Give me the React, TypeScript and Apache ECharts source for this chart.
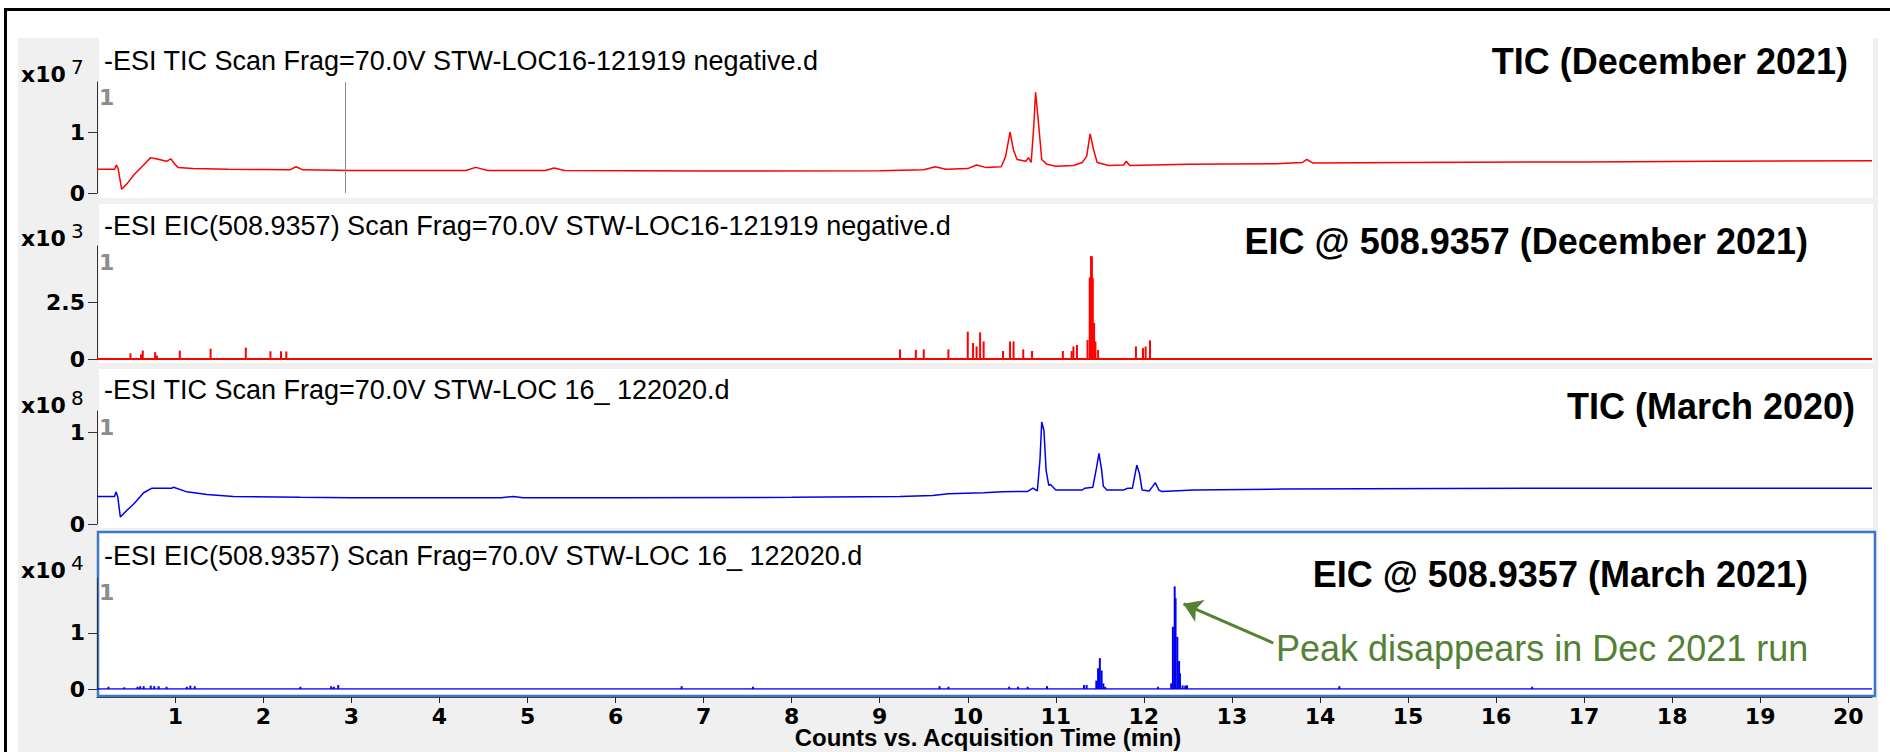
import React, { useEffect, useRef } from "react";
import * as echarts from "echarts";

// ---------- data ----------
const X_MIN = 0.11;
const X_MAX = 20.27;
const xTickValues = [1, 2, 3, 4, 5, 6, 7, 8, 9, 10, 11, 12, 13, 14, 15, 16, 17, 18, 19, 20];

// TIC December 2021 (x10^7 counts)
const ticDec2021: [number, number][] = [
  [0.11, 0.39], [0.31, 0.39], [0.33, 0.46], [0.35, 0.4], [0.39, 0.06], [0.45, 0.15], [0.53, 0.3],
  [0.64, 0.46], [0.72, 0.58], [0.78, 0.56], [0.9, 0.52], [0.95, 0.56], [0.99, 0.48], [1.03, 0.42],
  [1.2, 0.4], [1.6, 0.39], [2.0, 0.385], [2.3, 0.38], [2.37, 0.43], [2.45, 0.38], [3.0, 0.37],
  [4.3, 0.37], [4.41, 0.42], [4.55, 0.37], [5.2, 0.37], [5.3, 0.41], [5.42, 0.37], [7.0, 0.36],
  [9.0, 0.365], [9.5, 0.38], [9.63, 0.43], [9.75, 0.39], [10.0, 0.4], [10.1, 0.46], [10.2, 0.42],
  [10.38, 0.43], [10.43, 0.6], [10.48, 1.0], [10.52, 0.7], [10.56, 0.55], [10.66, 0.52], [10.69, 0.58],
  [10.72, 0.5], [10.75, 1.1], [10.77, 1.65], [10.8, 1.2], [10.84, 0.55], [10.9, 0.47], [11.0, 0.44],
  [11.2, 0.45], [11.3, 0.5], [11.35, 0.6], [11.39, 0.97], [11.43, 0.7], [11.47, 0.5], [11.6, 0.45],
  [11.77, 0.46], [11.8, 0.52], [11.84, 0.45], [12.5, 0.47], [13.5, 0.48], [13.8, 0.5], [13.85, 0.55],
  [13.92, 0.49], [15.0, 0.5], [17.0, 0.51], [18.5, 0.52], [20.27, 0.53],
];

// EIC 508.9357 December 2021 (x10^3 counts), sticks
const eicDec2021: [number, number][] = [
  [0.49, 0.25], [0.61, 0.2], [0.63, 0.37], [0.77, 0.3], [0.79, 0.15], [1.05, 0.37], [1.4, 0.45],
  [1.8, 0.5], [2.08, 0.34], [2.2, 0.34], [2.26, 0.33], [9.23, 0.42], [9.41, 0.4], [9.5, 0.42],
  [9.78, 0.42], [10.0, 1.2], [10.06, 0.7], [10.1, 0.55], [10.14, 1.17], [10.18, 0.77], [10.4, 0.35],
  [10.48, 0.77], [10.52, 0.77], [10.63, 0.42], [10.73, 0.35], [11.08, 0.35], [11.18, 0.35], [11.2, 0.55],
  [11.24, 0.62], [11.36, 0.83], [11.385, 3.58], [11.4, 4.52], [11.41, 4.5], [11.42, 3.55], [11.435, 1.58],
  [11.45, 0.77], [11.48, 0.4], [11.91, 0.55], [11.99, 0.48], [12.02, 0.55], [12.07, 0.82],
];

// TIC March 2020 (x10^8 counts)
const ticMar2020: [number, number][] = [
  [0.11, 0.3], [0.31, 0.3], [0.325, 0.35], [0.345, 0.3], [0.375, 0.076], [0.45, 0.15], [0.53, 0.22],
  [0.64, 0.34], [0.735, 0.39], [0.96, 0.39], [0.98, 0.4], [1.13, 0.35], [1.36, 0.32], [1.66, 0.3],
  [2.42, 0.29], [3.0, 0.285], [4.7, 0.285], [4.84, 0.3], [4.95, 0.285], [6.0, 0.285], [8.0, 0.29],
  [9.23, 0.3], [9.6, 0.31], [9.78, 0.33], [10.18, 0.34], [10.39, 0.35], [10.68, 0.355], [10.74, 0.39],
  [10.79, 0.36], [10.82, 0.7], [10.84, 1.11], [10.865, 1.02], [10.89, 0.58], [10.92, 0.42], [10.94, 0.43],
  [11.0, 0.37], [11.3, 0.37], [11.33, 0.39], [11.42, 0.4], [11.46, 0.6], [11.49, 0.77], [11.52, 0.59],
  [11.54, 0.41], [11.58, 0.37], [11.77, 0.37], [11.82, 0.39], [11.87, 0.39], [11.92, 0.64], [11.95, 0.55],
  [11.98, 0.37], [12.06, 0.36], [12.1, 0.41], [12.13, 0.45], [12.17, 0.37], [12.2, 0.355], [12.57, 0.37],
  [13.58, 0.38], [16.48, 0.39], [20.27, 0.39],
];

// EIC 508.9357 March 2021 (x10^4 counts), sticks
const eicMar2021: [number, number][] = [
  [0.24, 0.04], [0.42, 0.03], [0.57, 0.04], [0.6, 0.05], [0.64, 0.05], [0.72, 0.06], [0.76, 0.05],
  [0.81, 0.05], [0.9, 0.04], [1.13, 0.04], [1.17, 0.06], [1.22, 0.05], [2.42, 0.04], [2.77, 0.05],
  [2.8, 0.04], [2.85, 0.07], [6.75, 0.05], [7.56, 0.04], [9.68, 0.05], [9.78, 0.04], [10.47, 0.04],
  [10.57, 0.04], [10.68, 0.04], [10.9, 0.05], [11.32, 0.07], [11.35, 0.07], [11.46, 0.15], [11.48, 0.37],
  [11.5, 0.55], [11.52, 0.33], [11.54, 0.1], [11.56, 0.04], [12.16, 0.04], [12.31, 0.1], [12.33, 1.11],
  [12.35, 1.83], [12.36, 1.62], [12.38, 0.93], [12.4, 0.5], [12.41, 0.28], [12.44, 0.065], [12.47, 0.06],
  [12.49, 0.065], [14.22, 0.05], [16.41, 0.04],
];

const zeroBaseline: [number, number][] = [[X_MIN, 0], [X_MAX, 0]];

const panelTitles = [
  "-ESI TIC Scan Frag=70.0V STW-LOC16-121919 negative.d",
  "-ESI EIC(508.9357) Scan Frag=70.0V STW-LOC16-121919 negative.d",
  "-ESI TIC Scan Frag=70.0V STW-LOC 16_ 122020.d",
  "-ESI EIC(508.9357) Scan Frag=70.0V STW-LOC 16_ 122020.d",
];
const panelLabels = [
  "TIC (December 2021)",
  "EIC @ 508.9357 (December 2021)",
  "TIC (March 2020)",
  "EIC @ 508.9357 (March 2021)",
];
const exponents = ["7", "3", "8", "4"];
const yTickValues = [[0, 1], [0, 2.5], [0, 1], [0, 1]];
const yMaxValues = [1.82, 4.96, 1.23, 1.98];
const cursorTime = 2.93;
const annotationText = "Peak disappears in Dec 2021 run";
const xAxisTitle = "Counts vs. Acquisition Time (min)";

// ---------- layout ----------
const PLOT_LEFT = 97;
const PLOT_WIDTH = 1775;
const grids = [
  { top: 82, height: 111 },
  { top: 246, height: 113 },
  { top: 411, height: 113 },
  { top: 578, height: 111 },
];
const panelRects = [
  { y: 38, h: 160 },
  { y: 204, h: 159 },
  { y: 369, h: 159 },
  { y: 532, h: 163 },
];
const titleY = [61, 226, 390, 556];
const expY = [74, 238, 405, 570];
const grayOneY = [97, 262, 427, 592];
const labelPos = [
  { x: 1848, y: 61 },
  { x: 1808, y: 241 },
  { x: 1855, y: 406 },
  { x: 1808, y: 574 },
];

const SANS = "'Liberation Sans', Arial, sans-serif";
const DEJAVU = "'DejaVu Sans', sans-serif";
const RED = "#ff0000";
const BLUE = "#0000f0";
const GREEN = "#548235";

export default function App() {
  const ref = useRef<HTMLDivElement>(null);

  useEffect(() => {
    if (!ref.current) return;
    const chart = echarts.init(ref.current, undefined, { renderer: "svg" });

    const graphics: any[] = [];
    graphics.push({
      type: "rect", z: -30, silent: true,
      shape: { x: 18, y: 38, width: 1860, height: 714 },
      style: { fill: "#f0f0f0" },
    });
    graphics.push({
      type: "rect", z: -29, silent: true,
      shape: { x: 5.5, y: 9.5, width: 1900, height: 800 },
      style: { fill: "none", stroke: "#000", lineWidth: 3 },
    });
    panelRects.forEach((p) => {
      graphics.push({
        type: "rect", z: -25, silent: true,
        shape: { x: 99, y: p.y, width: 1774, height: p.h },
        style: { fill: "#ffffff" },
      });
    });
    graphics.push({
      type: "rect", z: -24, silent: true,
      shape: { x: 98, y: 532, width: 1777, height: 164 },
      style: { fill: "none", stroke: "#3c78c8", lineWidth: 2.5 },
    });
    for (let i = 0; i < 4; i++) {
      graphics.push({
        type: "text", z: 20, silent: true,
        style: {
          text: panelTitles[i], x: 104, y: titleY[i], align: "left", verticalAlign: "middle",
          fontFamily: SANS, fontSize: 27, fill: "#000",
        },
      });
      graphics.push({
        type: "text", z: 20, silent: true,
        style: {
          text: "x10", x: 21, y: expY[i], align: "left", verticalAlign: "middle",
          fontFamily: DEJAVU, fontWeight: "bold", fontSize: 22, fill: "#000",
        },
      });
      graphics.push({
        type: "text", z: 20, silent: true,
        style: {
          text: exponents[i], x: 71, y: expY[i] - 7, align: "left", verticalAlign: "middle",
          fontFamily: DEJAVU, fontSize: 20, fill: "#000",
        },
      });
      graphics.push({
        type: "text", z: 20, silent: true,
        style: {
          text: "1", x: 99, y: grayOneY[i], align: "left", verticalAlign: "middle",
          fontFamily: DEJAVU, fontWeight: "bold", fontSize: 22, fill: "#8c8c8c",
        },
      });
      graphics.push({
        type: "text", z: 20, silent: true,
        style: {
          text: panelLabels[i], x: labelPos[i].x, y: labelPos[i].y, align: "right", verticalAlign: "middle",
          fontFamily: SANS, fontWeight: "bold", fontSize: 36, fill: "#000",
        },
      });
    }
    graphics.push({
      type: "text", z: 20, silent: true,
      style: {
        text: annotationText, x: 1276, y: 648, align: "left", verticalAlign: "middle",
        fontFamily: SANS, fontSize: 36, fill: GREEN,
      },
    });
    graphics.push({
      type: "text", z: 20, silent: true,
      style: {
        text: xAxisTitle, x: 988, y: 737, align: "center", verticalAlign: "middle",
        fontFamily: SANS, fontWeight: "bold", fontSize: 24, fill: "#000",
      },
    });

    const xAxes = grids.map((_, i) => ({
      type: "value",
      gridIndex: i,
      min: X_MIN,
      max: X_MAX,
      show: i === 3,
      offset: 8,
      axisLine: { show: true, onZero: false, lineStyle: { color: "#444", width: 1 } },
      axisTick: { show: true, customValues: xTickValues, length: 6, lineStyle: { color: "#222", width: 1 } },
      axisLabel: {
        show: true, customValues: xTickValues, margin: 8,
        fontFamily: DEJAVU, fontWeight: "bold", fontSize: 22, color: "#000",
      },
      splitLine: { show: false },
    }));

    const yAxes = grids.map((_, i) => ({
      type: "value",
      gridIndex: i,
      min: 0,
      max: yMaxValues[i],
      axisLine: { show: true, lineStyle: { color: "#333", width: 1 } },
      axisTick: { show: true, customValues: yTickValues[i], length: 9, lineStyle: { color: "#333" } },
      axisLabel: {
        show: true, customValues: yTickValues[i], margin: 12,
        fontFamily: DEJAVU, fontWeight: "bold", fontSize: 22, color: "#000",
        formatter: (v: number) => String(v),
      },
      splitLine: { show: false },
    }));

    const option: any = {
      animation: false,
      backgroundColor: "#ffffff",
      grid: grids.map((g) => ({ left: PLOT_LEFT, width: PLOT_WIDTH, top: g.top, height: g.height })),
      xAxis: xAxes,
      yAxis: yAxes,
      graphic: { elements: graphics },
      series: [
        {
          type: "line", xAxisIndex: 0, yAxisIndex: 0, data: ticDec2021, symbol: "none",
          lineStyle: { color: RED, width: 1.5 }, itemStyle: { color: RED }, z: 3,
          markLine: {
            silent: true, symbol: "none", label: { show: false },
            lineStyle: { color: "#8c8c8c", width: 1, type: "solid" },
            data: [{ xAxis: cursorTime }],
          },
        },
        {
          type: "line", xAxisIndex: 1, yAxisIndex: 1, data: zeroBaseline, symbol: "none",
          lineStyle: { color: RED, width: 2 }, z: 3,
        },
        {
          type: "bar", xAxisIndex: 1, yAxisIndex: 1, data: eicDec2021, barWidth: 2,
          itemStyle: { color: RED }, z: 3,
        },
        {
          type: "line", xAxisIndex: 2, yAxisIndex: 2, data: ticMar2020, symbol: "none",
          lineStyle: { color: BLUE, width: 1.5 }, z: 3,
        },
        {
          type: "line", xAxisIndex: 3, yAxisIndex: 3, data: zeroBaseline, symbol: "none",
          lineStyle: { color: BLUE, width: 1.5 }, z: 3,
        },
        {
          type: "bar", xAxisIndex: 3, yAxisIndex: 3, data: eicMar2021, barWidth: 2,
          itemStyle: { color: BLUE }, z: 3,
          markLine: {
            silent: true, symbol: ["none", "arrow"], symbolSize: 18, label: { show: false },
            lineStyle: { color: GREEN, width: 3, type: "solid" },
            data: [[{ coord: [13.47, 0.82] }, { coord: [12.45, 1.52] }]],
          },
        },
      ],
    };

    chart.setOption(option);
    return () => chart.dispose();
  }, []);

  return (
    <div
      ref={ref}
      style={{ position: "absolute", left: 0, top: 0, width: "1890px", height: "752px" }}
    />
  );
}
